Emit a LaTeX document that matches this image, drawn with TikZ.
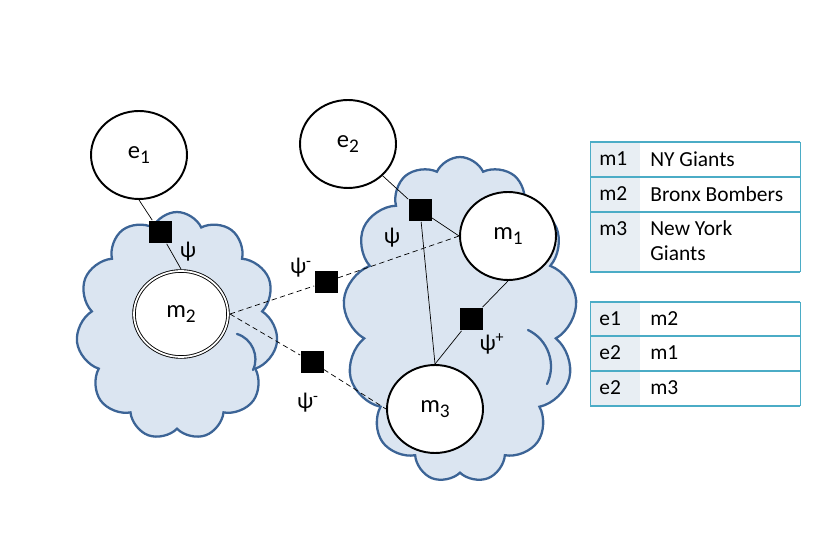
\documentclass[tikz,border=0pt]{standalone}
\usepackage{fontspec}
\setmainfont{Carlito}
\usetikzlibrary{arrows.meta,positioning,shapes.geometric,shapes.symbols}
\definecolor{CloudFill}{HTML}{DBE5F1}
\definecolor{CloudLine}{HTML}{3C6496}
\definecolor{TableLine}{HTML}{4BACC6}
\definecolor{TableShade}{HTML}{E8EEF3}
\newcommand\idx[1]{\raisebox{-0.4ex}{\fontsize{11}{13}\selectfont #1}}
\tikzset{
  var/.style={ellipse,draw,line width=1.1pt,fill=white,minimum width=1.92cm,minimum height=1.76cm,inner sep=0pt,font=\fontsize{14}{16}\selectfont},
  blob/.style={cloud,cloud puff arc=130,cloud ignores aspect,draw=CloudLine,fill=CloudFill,line width=1.3pt},
  puff/.style={draw=CloudLine,line width=1.3pt,line cap=round},
  fac/.style={rectangle,fill=black,minimum size=0.46cm,inner sep=0pt},
  link/.style={line width=0.4pt},
  weak/.style={line width=0.4pt,dash pattern=on 3pt off 2pt},
  lbl/.style={font=\fontsize{13}{15}\selectfont},
  cell/.style={anchor=west,inner sep=0pt,font=\fontsize{12.2}{14.5}\selectfont}
}

\begin{document}
\begin{tikzpicture}[x=0.02cm,y=-0.02cm,>=Stealth]
\useasboundingbox (0,0) rectangle (814,550);
% clouds
\node[blob,cloud puffs=11,minimum width=4.04cm,minimum height=4.56cm] (left) at (177,326) {};
\node[blob,cloud puffs=13,minimum width=4.68cm,minimum height=6.52cm] (right) at (460,320) {};
\draw[puff] (237,334) to[bend left=50] (253,370);
\draw[puff] (528,330) to[bend left=45] (547,384);
% factors
\node[fac] (f1) at (160,232) {};
\node[fac] (f2) at (420,210) {};
\node[fac] (f3) at (326,282) {};
\node[fac] (f4) at (312,362) {};
\node[fac] (f5) at (471,319) {};
% variables
\node[var] (e1) at (139,155) {e\idx{1}};
\node[var] (e2) at (348,144) {e\idx{2}};
\node[var] (m1) at (508,236) {m\idx{1}};
\node[var] (m3) at (435,409) {m\idx{3}};
\node[var,draw=none] (m2) at (181,314) {m\idx{2}};
\draw[line width=0.5pt,double,double distance=1pt] (m2.center) ellipse [x radius=47,y radius=43];
% connectors
\draw[link] (e1.south) -- (f1) -- (m2.north);
\draw[link] (e2) -- (f2) -- (m1.west);
\draw[link] (f2) -- (m3.north);
\draw[link] (m1.south) -- (f5) -- (m3.north);
\draw[weak] (m2.east) -- (f3) -- (m1.west);
\draw[weak] (m2.east) -- (f4) -- (m3.west);
\node[fac] at (f1) {};
\node[fac] at (f2) {};
\node[fac] at (f3) {};
\node[fac] at (f4) {};
\node[fac] at (f5) {};
% labels
\node[lbl] (psi1) at (188,252) {ψ};
\node[lbl] (psi2) at (301,268) {ψ\textsuperscript{-}};
\node[lbl] (psi3) at (308,403) {ψ\textsuperscript{-}};
\node[lbl] (psi4) at (392,238) {ψ};
\node[lbl] (psi5) at (492,344) {ψ\textsuperscript{+}};
% table of mentions
\fill[TableShade] (590,142) rectangle (640,272);
\foreach \y in {142,177,212,272} \draw[TableLine,line width=0.7pt] (590,\y) -- (800,\y);
\draw[TableLine,line width=0.4pt] (590,142) -- (590,272) (800,142) -- (800,272);
\node[cell] (ma) at (599,159) {m1};
\node[cell] (mb) at (599,194) {m2};
\node[cell] (mc) at (599,229) {m3};
\node[cell] (na) at (650,159) {NY Giants};
\node[cell] (nb) at (650,194) {Bronx Bombers};
\node[cell,align=left,anchor=north west] (nc) at (650,220) {New York\\Giants};
% table of links
\fill[TableShade] (590,302) rectangle (640,406);
\foreach \y in {302,336,371,406} \draw[TableLine,line width=0.7pt] (590,\y) -- (800,\y);
\draw[TableLine,line width=0.4pt] (590,302) -- (590,406) (800,302) -- (800,406);
\node[cell] (ea) at (599,319) {e1};
\node[cell] (eb) at (599,353) {e2};
\node[cell] (ec) at (599,388) {e2};
\node[cell] (la) at (650,319) {m2};
\node[cell] (lb) at (650,353) {m1};
\node[cell] (lc) at (650,388) {m3};
\end{tikzpicture}
\end{document}
